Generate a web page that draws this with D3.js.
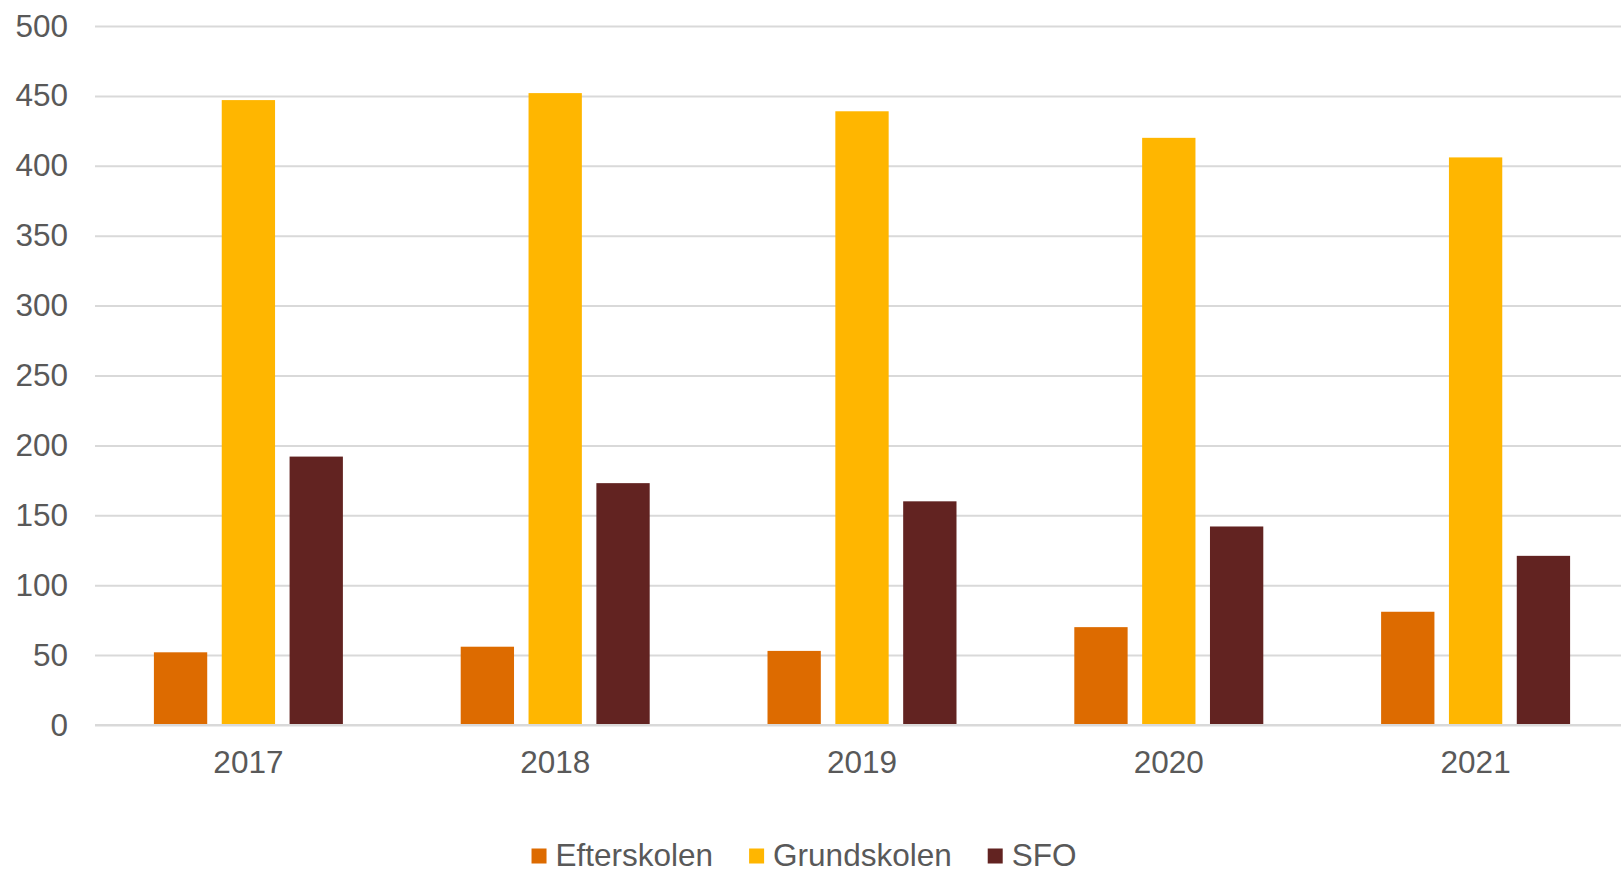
<!DOCTYPE html>
<html>
<head>
<meta charset="utf-8">
<script src="https://cdn.jsdelivr.net/npm/d3@7"></script>
<style>
  body { margin: 0; background: #fff; }
  svg { display: block; font-family: "Liberation Sans", Arial, sans-serif; }
</style>
</head>
<body>
<div id="chart"></div>
<script>
// chart data
const years = ["2017", "2018", "2019", "2020", "2021"];
const seriesNames = ["Efterskolen", "Grundskolen", "SFO"];
const efterskolen = [52, 56, 53, 70, 81];
const grundskolen = [447, 452, 439, 420, 406];
const sfo = [192, 173, 160, 142, 121];
const yTicks = [0, 50, 100, 150, 200, 250, 300, 350, 400, 450, 500];
const colors = ["#DD6B00", "#FFB600", "#622321"];

const width = 1621, height = 872;
const margin = { top: 26, left: 95, right: -8, bottom: 147 };
const innerW = width - margin.left - margin.right;
const innerH = height - margin.top - margin.bottom;

const values = [efterskolen, grundskolen, sfo];
const data = years.map((yr, i) => ({ year: yr, vals: seriesNames.map((s, j) => ({ key: s, value: values[j][i], idx: j })) }));

const svg = d3.select("#chart").append("svg")
    .attr("width", width)
    .attr("height", height);

const g = svg.append("g")
    .attr("transform", "translate(" + margin.left + "," + margin.top + ")");

// scales
const x0 = d3.scaleBand().domain(years).range([0, innerW]).paddingInner(0.384).paddingOuter(0.192);
const x1 = d3.scaleBand().domain(seriesNames).range([0, x0.bandwidth()]).paddingInner(0.214).paddingOuter(0);
const y = d3.scaleLinear().domain([0, 500]).range([innerH, 0]);

// gridlines + y labels
const yAxis = g.append("g")
    .call(d3.axisLeft(y).tickValues(yTicks).tickSize(-innerW).tickPadding(27));
yAxis.select(".domain").remove();
yAxis.selectAll(".tick line").attr("stroke", "#D9D9D9").attr("stroke-width", 2);
yAxis.selectAll(".tick text")
    .attr("fill", "#595959")
    .style("font-size", "31.5px");

// bars
const groups = g.selectAll(".year")
    .data(data)
    .enter().append("g")
    .attr("class", "year")
    .attr("transform", d => "translate(" + x0(d.year) + ",0)");

groups.selectAll("rect")
    .data(d => d.vals)
    .enter().append("rect")
    .attr("x", d => x1(d.key))
    .attr("y", d => y(d.value))
    .attr("width", x1.bandwidth())
    .attr("height", d => innerH - y(d.value))
    .attr("fill", d => colors[d.idx]);

// x axis labels
const xAxis = g.append("g")
    .attr("transform", "translate(0," + innerH + ")")
    .call(d3.axisBottom(x0).tickSize(0).tickPadding(26));
xAxis.select(".domain").remove();
xAxis.selectAll(".tick text")
    .attr("fill", "#595959")
    .style("font-size", "31.5px");

// baseline drawn over bars like the gridlines
g.append("line")
    .attr("x1", 0).attr("x2", innerW)
    .attr("y1", y(0)).attr("y2", y(0))
    .attr("stroke", "#D9D9D9").attr("stroke-width", 2);

// legend
const legend = svg.append("g").attr("class", "legend");
const items = legend.selectAll("g")
    .data(seriesNames)
    .enter().append("g");
items.append("rect")
    .attr("width", 15).attr("height", 15)
    .attr("y", -17.5)
    .attr("fill", (d, i) => colors[i]);
items.append("text")
    .attr("x", 24)
    .attr("fill", "#595959")
    .style("font-size", "31.5px")
    .text(d => d);

let pos = 0;
items.each(function() {
    d3.select(this).attr("transform", "translate(" + pos + ",0)");
    pos += this.getBBox().width + 36;
});
const legendW = pos - 36;
legend.attr("transform", "translate(" + (804 - legendW / 2) + ",866)");
</script>
</body>
</html>
